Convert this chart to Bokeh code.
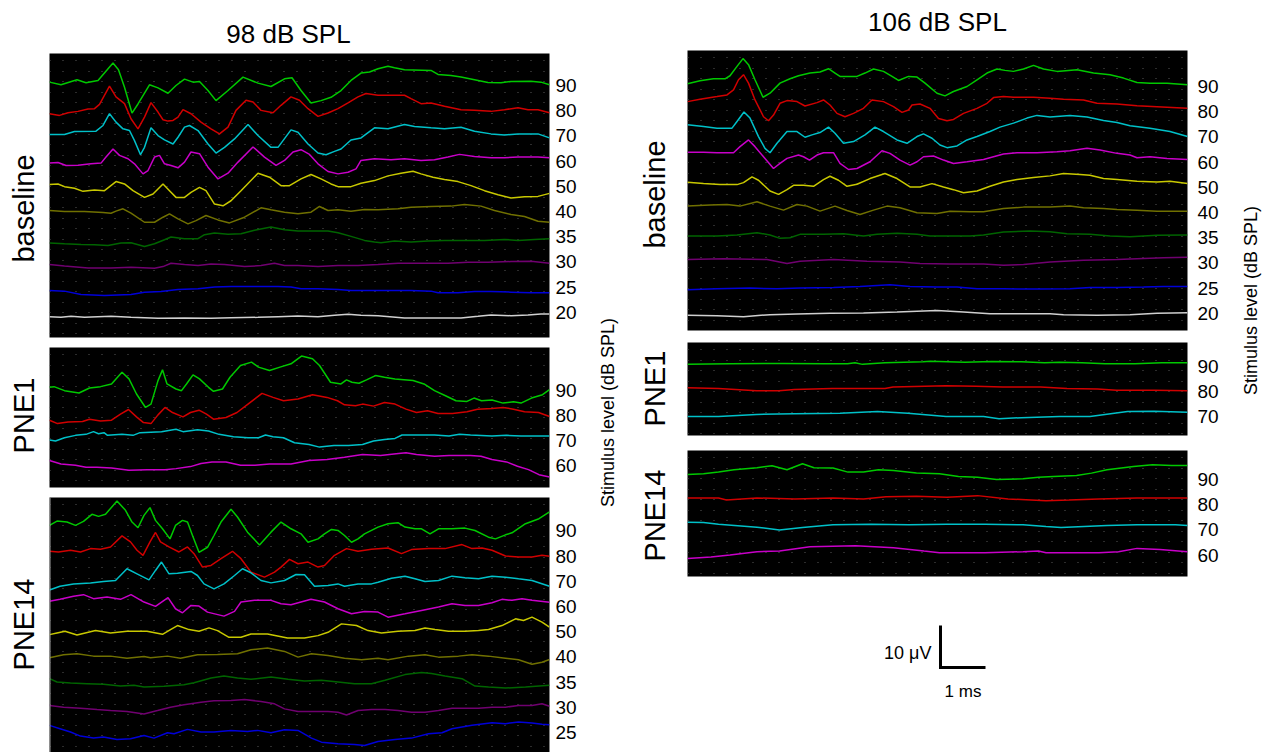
import math
import numpy as np
from bokeh.plotting import figure
from bokeh.models import Range1d, LinearAxis, FixedTicker, Grid, Spacer, Span
from bokeh.layouts import row, column
from bokeh.embed import file_html
from bokeh.resources import INLINE
from bokeh.core.properties import value

FONT = "Liberation Sans"

# ---------------- data: (time ms, amplitude uV) per trace ----------------
LEVELS_FULL = [90, 80, 70, 60, 50, 40, 35, 30, 25, 20]
LEVELS_PNE1_98 = [90, 80, 70, 60]
LEVELS_PNE14_98 = [90, 80, 70, 60, 50, 40, 35, 30, 25]
LEVELS_PNE1_106 = [90, 80, 70]
LEVELS_PNE14_106 = [90, 80, 70, 60]
TRACE_COLORS = ["#00c800", "#d00000", "#00c0c8", "#c800c8", "#c8c800",
                "#707000", "#006400", "#700070", "#0000d8", "#d0d0d0"]
ROW_LABELS = ["baseline", "PNE1", "PNE14"]
TITLES = ["98 dB SPL", "106 dB SPL"]
STIM_LABEL = "Stimulus level (dB SPL)"
SCALE_MS = 1
SCALE_UV = 10

# 98 dB SPL, baseline
b98_90 = [(0,0.8),(0.23,0.16),(0.55,1.36),(0.73,0.64),(0.97,1.2),(1.27,5.36),(1.38,3.76),(1.5,-0.4),(1.65,-6.56),(1.77,-4.4),(2.0,0.16),(2.17,-0.56),(2.37,-1.84),(2.53,0),(2.7,1.52),(2.87,0.8),(3.0,0.96),(3.17,-1.2),(3.33,-3.6),(3.57,-1.2),(3.87,2.0),(4.17,0.56),(4.43,-0.24),(4.7,1.6),(4.85,1.84),(5.03,-1.2),(5.23,-4.16),(5.43,-3.6),(5.63,-2.8),(5.83,-1.2),(6.03,1.2),(6.23,2.96),(6.4,3.2),(6.57,4.0),(6.77,4.56),(6.9,4.24),(7.1,3.76),(7.63,3.6),(7.77,2.64),(8.03,2.4),(8.23,2.0),(8.5,1.36),(8.77,0.72),(9.03,0.64),(9.23,0.96),(9.63,1.04),(9.83,0.8),(10.0,0.16)]
b98_80 = [(0,-0.72),(0.2,-1.12),(0.37,-0.48),(0.57,-0.16),(0.77,0.4),(0.9,0.48),(1.0,1.52),(1.2,5.84),(1.33,3.28),(1.5,1.68),(1.63,-1.92),(1.77,-4.32),(1.9,-1.52),(2.03,1.92),(2.17,-0.32),(2.27,-2.16),(2.37,-2.48),(2.47,-2.32),(2.57,-1.52),(2.67,0.24),(2.83,-0.72),(3.03,-2.72),(3.23,-4.32),(3.4,-5.52),(3.57,-3.92),(3.73,0.08),(3.93,2.48),(4.07,2.08),(4.23,0.08),(4.47,-0.48),(4.63,1.28),(4.83,3.28),(5.0,2.48),(5.17,0.48),(5.37,-1.36),(5.57,-0.56),(5.77,0.48),(5.97,1.84),(6.17,3.28),(6.33,4.08),(6.57,3.68),(7.1,3.68),(7.23,2.88),(7.43,1.68),(7.63,1.84),(7.9,1.04),(8.23,0.24),(8.5,0.08),(8.83,-0.16),(9.1,0.24),(9.37,0.72),(9.57,0.24),(9.77,0.24),(10.0,-0.48)]
b98_70 = [(0,0.32),(0.3,0.32),(0.5,1.04),(0.93,1.12),(1.07,2.48),(1.2,5.28),(1.33,3.28),(1.47,1.68),(1.6,1.28),(1.7,-1.12),(1.82,-4.48),(1.9,-2.72),(2.03,1.92),(2.17,0.08),(2.3,-0.96),(2.47,-1.92),(2.57,-0.32),(2.7,2.08),(2.8,2.48),(2.97,1.28),(3.17,-1.92),(3.33,-4.08),(3.5,-2.72),(3.7,-0.72),(3.97,2.72),(4.17,0.08),(4.43,-2.72),(4.57,-2.72),(4.83,1.44),(4.97,0.88),(5.17,-1.92),(5.37,-4.08),(5.53,-4.48),(5.7,-3.68),(5.83,-3.12),(6.03,-0.96),(6.23,-0.48),(6.5,1.92),(6.77,1.68),(7.1,2.72),(7.3,2.24),(7.63,1.92),(7.9,1.68),(8.23,2.08),(8.5,1.12),(8.83,0.48),(9.1,0.24),(9.37,0.48),(9.77,0.48),(10.0,-0.48)]
b98_60 = [(0,-0.48),(0.17,-0.32),(0.33,-1.04),(0.57,-0.96),(0.83,-0.64),(1.03,-0.48),(1.13,0.96),(1.27,2.88),(1.4,1.36),(1.57,0.56),(1.7,-0.64),(1.87,-3.04),(1.97,-2.24),(2.1,0.96),(2.2,1.36),(2.3,-0.64),(2.43,-1.04),(2.57,-1.6),(2.7,-0.24),(2.83,2.16),(3.0,1.76),(3.17,-1.44),(3.37,-4.24),(3.57,-2.88),(3.77,-0.24),(4.07,3.36),(4.3,0.96),(4.53,-1.04),(4.7,0.16),(4.87,2.16),(5.03,2.72),(5.2,1.6),(5.37,-0.64),(5.57,-2.48),(5.77,-3.04),(5.97,-2.64),(6.13,-1.84),(6.23,0.16),(6.5,0.56),(6.83,0.32),(7.1,0.56),(7.43,0.16),(7.7,0.32),(7.97,0.96),(8.2,1.6),(8.5,1.12),(8.83,0.8),(9.1,0.8),(9.37,0.96),(9.77,0.96),(10.0,0.8)]
b98_50 = [(0,0.4),(0.17,0.56),(0.3,-0.08),(0.5,-0.48),(0.67,-1.2),(0.9,-0.88),(1.1,-1.04),(1.33,1.12),(1.5,0.56),(1.67,-1.04),(1.9,-2.64),(2.07,-1.84),(2.27,0.56),(2.4,-1.04),(2.53,-2.64),(2.7,-2.64),(2.83,-1.44),(3.0,-0.24),(3.13,-1.04),(3.3,-4.24),(3.47,-4.64),(3.63,-3.44),(3.83,-1.04),(4.17,3.12),(4.4,2.16),(4.63,0.16),(4.8,0.16),(5.03,1.76),(5.23,2.8),(5.43,1.76),(5.63,0.56),(5.77,-0.08),(6.03,-0.08),(6.23,0.72),(6.5,1.36),(6.77,2.48),(7.03,3.12),(7.27,3.6),(7.43,2.96),(7.67,2.16),(7.9,1.6),(8.17,1.12),(8.43,0.16),(8.7,-1.04),(8.97,-2.0),(9.23,-2.8),(9.5,-2.48),(9.77,-2.4),(10.0,-1.68)]
b98_40 = [(0,0.24),(0.3,0),(0.7,0),(1.07,-0.24),(1.23,-0.4),(1.33,0.08),(1.47,0.64),(1.63,-0.4),(1.9,-2.56),(2.1,-2.56),(2.27,-1.36),(2.4,-0.56),(2.57,-1.76),(2.77,-2.96),(2.93,-2.16),(3.13,-0.96),(3.37,-2.0),(3.6,-2.72),(3.9,-1.36),(4.23,0.88),(4.43,0.4),(4.7,-0.16),(4.97,-0.56),(5.23,-0.16),(5.4,1.2),(5.57,0.24),(5.77,0.4),(6.03,0.08),(6.3,0.48),(6.57,0.4),(6.97,0.64),(7.23,1.04),(7.63,1.2),(8.03,1.28),(8.3,1.68),(8.63,1.28),(8.9,0.24),(9.23,-0.72),(9.5,-1.2),(9.77,-2.32),(10.0,-2.56)]
b98_35 = [(0,-1.52),(0.3,-1.68),(0.63,-1.84),(0.9,-1.92),(1.17,-2.08),(1.43,-1.52),(1.63,-1.44),(1.9,-2.32),(2.1,-1.68),(2.3,-0.72),(2.43,-0.08),(2.7,-0.48),(2.97,-0.48),(3.1,0.48),(3.3,0.88),(3.57,0.56),(3.83,0.72),(4.1,1.52),(4.43,2.32),(4.7,1.68),(4.97,1.36),(5.23,1.36),(5.57,1.36),(5.77,0.96),(6.03,0.08),(6.3,-0.88),(6.5,-1.28),(6.63,-1.44),(6.9,-1.04),(7.23,-1.28),(7.57,-1.04),(7.9,-0.88),(8.3,-0.88),(8.7,-0.88),(9.1,-0.64),(9.37,-0.88),(9.7,-0.64),(10.0,-0.48)]
b98_30 = [(0,-0.64),(0.3,-0.96),(0.77,-1.44),(1.23,-1.44),(1.63,-1.28),(2.1,-1.52),(2.27,-1.12),(2.43,-0.32),(2.7,-0.64),(2.97,-0.88),(3.23,-0.48),(3.5,-0.64),(3.9,-1.12),(4.23,-0.88),(4.5,-0.32),(4.7,-0.88),(4.97,-0.88),(5.37,-1.12),(5.77,-0.88),(6.17,-0.88),(6.57,-0.64),(6.97,-0.32),(7.57,-0.32),(7.97,-0.32),(8.37,-0.08),(8.77,-0.08),(9.23,0.08),(9.63,0.16),(10.0,-0.32)]
b98_25 = [(0,-0.8),(0.3,-0.96),(0.63,-1.76),(1.1,-2.0),(1.63,-1.76),(1.9,-1.2),(2.23,-1.04),(2.57,-0.56),(2.97,-0.4),(3.3,0),(3.63,0.16),(4.17,0.16),(4.57,0.16),(4.83,0),(5.03,-0.4),(5.37,-0.4),(5.77,-0.56),(6.03,-0.8),(6.57,-0.8),(7.23,-0.8),(7.63,-0.96),(7.77,-1.36),(8.17,-1.36),(8.5,-1.04),(8.83,-1.04),(9.23,-1.2),(9.63,-1.36),(10.0,-1.36)]
b98_20 = [(0,-1.04),(0.23,-1.2),(0.43,-0.96),(0.7,-1.2),(1.23,-0.96),(1.63,-1.2),(2.17,-1.44),(2.7,-1.36),(3.23,-1.44),(3.63,-1.28),(4.17,-1.2),(4.57,-1.04),(4.97,-0.88),(5.37,-1.04),(5.7,-0.72),(5.97,-0.48),(6.23,-0.72),(6.57,-0.8),(7.1,-1.36),(7.63,-1.36),(8.23,-1.36),(8.57,-0.96),(8.83,-0.64),(9.23,-0.8),(9.57,-0.64),(9.83,-0.4),(10.0,-0.4)]

# 98 dB SPL, PNE1
p1_98_90 = [(0,0.64),(0.09,0.8),(0.3,-0.16),(0.59,-0.72),(0.8,0.48),(1.02,0.8),(1.24,1.44),(1.45,4.24),(1.59,2.64),(1.74,-0.96),(1.92,-4.16),(2.03,-3.36),(2.17,2.24),(2.26,4.8),(2.35,1.44),(2.53,0.24),(2.64,-0.16),(2.74,1.44),(2.87,3.6),(3.0,2.64),(3.18,0.64),(3.28,-0.32),(3.46,0.24),(3.61,3.04),(3.82,5.84),(4.04,6.64),(4.18,5.44),(4.4,4.64),(4.61,5.44),(4.83,6.24),(5.04,8.08),(5.26,7.44),(5.4,5.84),(5.62,1.84),(5.83,1.44),(5.94,2.4),(6.05,1.84),(6.19,1.6),(6.34,2.4),(6.52,3.44),(6.7,3.04),(6.91,2.64),(7.27,2.24),(7.49,1.44),(7.7,-0.16),(7.92,-1.36),(8.13,-2.56),(8.35,-2.72),(8.49,-1.92),(8.64,-2.56),(8.85,-2.4),(9.07,-3.12),(9.28,-2.8),(9.43,-3.12),(9.64,-1.92),(9.86,-1.12),(10.0,0.08)]
p1_98_80 = [(0,-1.2),(0.16,-2.0),(0.37,-1.6),(0.66,-1.52),(0.8,-0.96),(1.02,-1.36),(1.24,-1.2),(1.42,0.24),(1.58,1.36),(1.74,-0.4),(1.88,-1.76),(2.03,-2.0),(2.17,0.08),(2.31,1.84),(2.46,0.64),(2.67,-0.4),(2.82,0.64),(2.99,1.2),(3.14,0.24),(3.28,-0.96),(3.53,-0.56),(3.75,0.64),(3.97,2.64),(4.25,5.2),(4.47,4.24),(4.68,3.44),(4.97,3.84),(5.26,4.88),(5.55,4.24),(5.76,3.44),(5.9,2.48),(6.12,2.24),(6.26,2.64),(6.48,2.16),(6.7,3.04),(6.91,2.64),(7.13,1.44),(7.34,0.64),(7.56,1.04),(7.77,0.4),(8.06,0.4),(8.35,0.8),(8.56,1.44),(8.85,1.6),(9.07,1.84),(9.28,1.44),(9.5,0.8),(9.78,0.64),(10.0,-0.32)]
p1_98_70 = [(0,0.08),(0.12,-0.16),(0.3,0.64),(0.52,1.2),(0.73,1.44),(0.88,2.08),(0.98,1.6),(1.09,1.84),(1.16,1.2),(1.45,1.44),(1.67,1.2),(1.81,1.84),(2.24,2.08),(2.53,2.64),(2.67,2.08),(2.96,2.56),(3.18,2.24),(3.39,1.44),(3.68,0.88),(3.97,0.64),(4.18,0.64),(4.32,1.28),(4.47,0.88),(4.68,0.64),(4.9,-0.56),(5.19,-0.96),(5.4,-1.6),(5.69,-1.2),(5.98,-1.2),(6.26,-0.96),(6.48,-0.16),(6.7,0.24),(6.91,0.48),(7.05,1.28),(7.41,1.28),(7.7,1.28),(7.99,1.04),(8.2,1.44),(8.42,1.28),(8.85,1.04),(9.14,1.2),(9.43,1.04),(9.71,1.04),(10.0,1.04)]
p1_98_60 = [(0,1.2),(0.23,0.4),(0.52,0.08),(0.73,-0.4),(0.95,-0.4),(1.24,-0.56),(1.59,-1.12),(1.95,-0.96),(2.31,-0.96),(2.53,-0.72),(2.82,-0.24),(3.03,0.48),(3.25,0.88),(3.53,0.88),(3.82,0.08),(4.11,0.08),(4.4,0.4),(4.83,0.4),(5.19,1.2),(5.55,1.44),(5.9,2.0),(6.26,2.64),(6.62,2.4),(6.98,2.88),(7.13,3.04),(7.34,2.64),(7.7,2.24),(7.99,2.4),(8.42,2.4),(8.63,2.24),(8.85,1.44),(9.14,0.88),(9.36,-0.16),(9.58,-0.96),(9.79,-2.16),(10.0,-2.72)]

# 98 dB SPL, PNE14
p14_98_90 = [(0,1.28),(0.15,2.32),(0.35,2.08),(0.52,1.28),(0.68,2.24),(0.85,3.92),(0.98,3.44),(1.12,3.92),(1.35,7.12),(1.52,4.88),(1.65,2.08),(1.77,0.72),(1.89,3.68),(2.01,5.52),(2.12,2.48),(2.26,0.48),(2.41,-1.92),(2.52,1.28),(2.66,2.48),(2.76,2.08),(2.86,-1.12),(2.99,-5.12),(3.16,-3.92),(3.29,-1.12),(3.43,2.08),(3.63,5.12),(3.76,3.28),(3.96,-0.32),(4.2,-3.36),(4.43,-0.32),(4.63,2.08),(4.83,0.48),(5.03,-0.72),(5.17,-2.72),(5.37,-1.92),(5.5,-0.72),(5.64,0.32),(5.77,0.08),(5.9,-1.12),(6.04,-2.72),(6.17,-1.92),(6.3,-0.72),(6.57,0.88),(6.77,1.68),(6.97,1.92),(7.11,0.88),(7.31,0.48),(7.44,0.48),(7.61,-0.72),(7.78,0.48),(8.05,0.48),(8.31,0.64),(8.51,0.08),(8.78,-1.52),(8.92,-1.92),(9.12,-0.96),(9.25,-0.48),(9.52,1.68),(9.79,2.88),(10.0,4.48)]
p14_98_80 = [(0,1.12),(0.18,0.96),(0.42,1.36),(0.62,0.96),(0.82,1.76),(1.02,1.6),(1.22,2.16),(1.45,4.8),(1.62,3.36),(1.75,1.36),(1.87,0.16),(2.01,3.36),(2.12,5.6),(2.22,3.36),(2.39,2.16),(2.59,0.96),(2.76,2.16),(2.89,0.56),(3.06,-2.64),(3.23,-2.24),(3.43,-0.64),(3.66,1.12),(3.83,-0.64),(4.03,-3.84),(4.3,-5.04),(4.5,-3.84),(4.63,-2.64),(4.8,-0.8),(4.97,-1.84),(5.17,-1.44),(5.37,-2.64),(5.5,-2.24),(5.7,0.16),(5.94,1.76),(6.17,1.12),(6.44,1.6),(6.77,1.92),(7.04,0.56),(7.24,1.52),(7.58,1.76),(7.91,1.76),(8.25,2.72),(8.45,1.76),(8.65,1.92),(8.85,1.36),(9.12,0),(9.38,-0.24),(9.65,-0.24),(9.85,0.16),(10.0,-0.08)]
p14_98_70 = [(0,-2.08),(0.21,-1.2),(0.48,-0.64),(0.82,-0.4),(1.08,-0.08),(1.32,0.16),(1.55,2.96),(1.75,1.76),(1.99,0.32),(2.12,2.56),(2.24,4.56),(2.39,1.76),(2.56,1.92),(2.83,2.32),(2.96,1.36),(3.09,-0.64),(3.29,-1.84),(3.49,-0.64),(3.7,1.36),(3.86,2.96),(4.03,2.0),(4.23,0.16),(4.43,-0.4),(4.7,0.16),(4.93,1.6),(5.1,1.52),(5.3,-1.2),(5.57,-1.04),(5.77,-0.64),(5.9,-1.2),(6.17,-0.64),(6.44,-0.64),(6.57,-0.24),(6.84,0.72),(7.11,1.2),(7.31,0.56),(7.51,-0.08),(7.78,0.16),(8.05,1.2),(8.31,0.8),(8.58,0.56),(8.85,1.2),(9.12,0.96),(9.38,0.56),(9.65,0.16),(10.0,-1.2)]
p14_98_60 = [(0,1.2),(0.21,1.68),(0.48,2.4),(0.68,2.8),(0.88,1.84),(1.15,2.24),(1.42,1.68),(1.63,2.8),(1.89,1.04),(2.12,0),(2.37,2.08),(2.52,-0.56),(2.66,-1.52),(2.83,0.24),(2.99,0.08),(3.16,-1.36),(3.49,-2.32),(3.7,-1.2),(3.83,1.04),(4.1,1.44),(4.43,1.44),(4.63,0.64),(4.83,0.4),(5.23,1.68),(5.5,1.04),(5.77,-0.56),(6.04,-1.76),(6.3,-1.2),(6.57,-1.36),(6.77,-2.56),(7.11,-1.76),(7.44,-0.96),(7.78,-0.16),(8.05,0.64),(8.31,0.24),(8.58,0.24),(8.85,0.88),(9.05,1.68),(9.25,1.44),(9.45,1.84),(9.65,1.44),(10.0,0.96)]
p14_98_50 = [(0,-0.72),(0.15,-0.32),(0.31,0.08),(0.55,-0.8),(0.92,0.24),(1.22,-0.32),(1.55,0.08),(1.95,0.08),(2.26,-0.64),(2.42,0.48),(2.56,1.44),(2.79,0.48),(2.99,0.08),(3.19,0.88),(3.36,0.24),(3.59,-1.36),(3.83,-1.36),(4.03,-0.56),(4.36,-0.56),(4.76,-1.52),(5.1,-1.52),(5.37,-0.96),(5.57,-0.16),(5.84,1.84),(6.14,1.44),(6.37,0.24),(6.64,-0.32),(6.97,0.08),(7.31,0.24),(7.51,0.88),(7.71,0.48),(7.98,0.08),(8.31,0.08),(8.58,0.24),(8.78,0.48),(9.05,1.44),(9.32,3.04),(9.48,2.64),(9.65,3.44),(9.85,2.24),(10.0,1.04)]
p14_98_40 = [(0,-0.24),(0.28,0.48),(0.55,0.72),(0.88,0.16),(1.22,0.16),(1.55,-0.32),(1.89,0.08),(2.02,-0.24),(2.36,0.16),(2.62,-0.32),(2.96,0.48),(3.36,0.56),(3.76,0.72),(4.03,1.68),(4.36,2.08),(4.7,1.28),(4.97,-0.08),(5.24,0.72),(5.57,0.32),(5.9,-0.32),(6.24,-0.72),(6.57,-0.32),(6.77,-0.72),(7.18,0.16),(7.51,0.48),(7.78,-0.08),(8.18,0.16),(8.45,0.48),(8.78,0.16),(9.12,-0.32),(9.38,-0.72),(9.65,-1.76),(9.85,-1.28),(10.0,-0.64)]
p14_98_35 = [(0,0.8),(0.15,0),(0.42,-0.24),(0.75,-0.4),(1.08,-0.56),(1.42,-0.96),(1.69,-0.8),(1.89,-1.2),(2.29,-1.04),(2.69,-0.64),(2.89,-0.16),(3.23,0.96),(3.49,1.44),(3.76,0.96),(4.03,0.64),(4.43,1.2),(4.77,0.64),(5.1,0.24),(5.44,0.4),(5.77,0),(6.1,-0.4),(6.44,-0.4),(6.71,0.4),(7.11,1.76),(7.44,2.24),(7.64,2.0),(7.91,1.44),(8.25,0.8),(8.51,-0.96),(8.78,-1.2),(9.12,-1.44),(9.52,-1.2),(10.0,-0.8)]
p14_98_30 = [(0,0.4),(0.28,0),(0.62,-0.24),(0.95,-0.56),(1.22,-0.8),(1.55,-1.04),(1.89,-1.6),(2.16,-0.8),(2.42,0),(2.69,0.56),(3.03,1.2),(3.29,1.52),(3.63,1.6),(3.9,1.84),(4.23,1.36),(4.5,0.8),(4.7,-0.4),(4.97,-1.04),(5.24,-1.04),(5.57,-1.04),(5.77,-1.2),(5.94,-1.84),(6.17,-0.8),(6.44,-0.56),(6.71,-0.56),(6.97,-0.8),(7.24,-1.2),(7.51,-1.2),(7.78,-0.8),(8.05,-0.24),(8.31,-0.24),(8.58,-0.24),(8.85,0),(9.12,0),(9.38,0.4),(9.65,0.4),(9.85,0.8),(10.0,0.24)]
p14_98_25 = [(0,1.68),(0.21,0.88),(0.42,0.08),(0.62,-0.88),(0.88,-1.36),(1.08,-1.12),(1.35,-1.68),(1.62,-1.52),(1.89,-0.72),(2.09,-1.36),(2.36,-0.08),(2.49,-0.32),(2.76,0.72),(3.03,0.08),(3.29,0.08),(3.63,0.48),(3.96,0.24),(4.16,0.48),(4.43,-0.08),(4.7,0.64),(4.97,0.48),(5.24,-1.36),(5.44,-2.32),(5.77,-2.72),(6.1,-2.88),(6.3,-3.12),(6.57,-2.16),(6.91,-1.68),(7.24,-1.36),(7.58,-0.32),(7.85,-0.08),(8.05,0.88),(8.45,1.68),(8.85,2.32),(9.12,2.08),(9.38,2.48),(9.65,2.24),(9.85,1.92),(10.0,1.84)]

# 106 dB SPL, baseline
b106_90 = [(0,0.64),(0.25,1.36),(0.52,1.84),(0.75,1.84),(0.85,2.56),(0.99,4.8),(1.11,6.64),(1.22,5.2),(1.35,1.6),(1.51,-2.56),(1.65,-1.6),(1.85,0.8),(2.05,1.84),(2.22,2.56),(2.45,3.2),(2.65,3.44),(2.82,4.24),(2.95,3.2),(3.05,2.4),(3.25,2.4),(3.39,2.4),(3.55,3.2),(3.72,4.16),(3.92,3.6),(4.09,2.4),(4.22,1.44),(4.42,2.4),(4.59,2.24),(4.75,0.8),(4.99,-1.6),(5.15,-2.24),(5.32,-1.2),(5.59,0),(5.79,1.6),(5.99,3.2),(6.19,4.16),(6.35,3.84),(6.52,3.6),(6.72,4.16),(6.92,5.04),(7.12,4.16),(7.39,3.6),(7.79,4.0),(8.12,3.2),(8.45,2.8),(8.72,2.0),(8.99,0.96),(9.25,0.8),(9.59,0.8),(10.0,0.4)]
b106_80 = [(0,2.4),(0.25,2.96),(0.59,3.6),(0.79,4.0),(0.92,5.2),(1.02,7.6),(1.12,8.8),(1.22,6.8),(1.35,2.8),(1.52,-1.2),(1.62,-2.16),(1.72,-0.8),(1.85,2.0),(1.99,2.64),(2.19,2.4),(2.35,1.36),(2.59,2.16),(2.72,2.8),(2.85,1.6),(2.99,-0.4),(3.15,-1.2),(3.32,-0.4),(3.52,0.8),(3.69,2.8),(3.92,2.4),(4.12,1.2),(4.29,-0.16),(4.42,0.4),(4.49,1.6),(4.65,1.84),(4.85,0.8),(5.02,-1.6),(5.19,-2.16),(5.32,-1.84),(5.52,-0.4),(5.79,0.8),(5.99,2.0),(6.12,3.36),(6.32,3.6),(6.52,3.44),(6.92,3.44),(7.25,3.2),(7.52,2.96),(7.92,2.8),(8.19,2.0),(8.59,1.84),(8.99,1.44),(9.39,1.2),(9.79,0.96),(10.0,0.8)]
b106_70 = [(0,2.88),(0.32,2.48),(0.59,2.08),(0.89,2.08),(0.99,3.68),(1.13,5.92),(1.25,4.48),(1.42,0.08),(1.55,-2.72),(1.65,-3.76),(1.79,-1.52),(1.99,1.28),(2.19,1.28),(2.35,-0.08),(2.49,0.48),(2.65,1.04),(2.82,2.32),(2.95,0.88),(3.12,-1.52),(3.32,-1.12),(3.55,0.48),(3.75,2.32),(3.92,1.28),(4.19,-0.72),(4.39,-1.52),(4.59,0.08),(4.72,0.72),(4.89,-0.32),(5.05,-1.92),(5.19,-2.56),(5.39,-2.16),(5.59,-0.72),(5.79,0.08),(6.05,1.28),(6.25,2.32),(6.52,3.28),(6.79,4.48),(6.99,5.12),(7.25,4.72),(7.65,5.12),(7.99,4.72),(8.32,3.92),(8.59,3.44),(8.85,2.64),(9.25,2.08),(9.65,1.28),(10.0,0.08)]
b106_60 = [(0,2.32),(0.32,2.32),(0.59,2.24),(0.92,2.24),(1.05,3.68),(1.22,5.28),(1.35,3.68),(1.52,1.28),(1.72,-1.52),(1.85,-0.32),(1.99,0.88),(2.22,1.68),(2.32,1.28),(2.44,0.48),(2.59,1.68),(2.72,2.24),(2.92,2.24),(3.05,-0.32),(3.22,-1.76),(3.39,-1.52),(3.65,0.08),(3.89,2.72),(4.05,2.08),(4.25,0.48),(4.45,-0.72),(4.59,0.08),(4.72,1.28),(4.92,1.44),(5.12,0.48),(5.32,-0.32),(5.59,0.08),(5.92,0.64),(6.32,1.92),(6.59,2.24),(6.99,2.24),(7.39,2.48),(7.65,2.72),(7.99,3.28),(8.25,2.88),(8.59,2.08),(8.85,1.68),(8.99,1.04),(9.25,1.28),(9.59,0.88),(10.0,0.64)]
b106_50 = [(0,1.2),(0.32,0.88),(0.65,0.64),(0.99,0.64),(1.12,1.12),(1.29,2.48),(1.42,1.68),(1.65,-0.88),(1.82,-1.68),(1.99,-0.56),(2.12,0.48),(2.32,0.48),(2.52,0.24),(2.72,1.84),(2.85,2.64),(3.02,1.68),(3.19,0.24),(3.39,0.72),(3.65,2.08),(3.95,3.28),(4.19,2.08),(4.45,0.08),(4.65,0.08),(4.89,0.88),(5.12,0.08),(5.32,-0.56),(5.52,-1.28),(5.79,-0.88),(6.05,0.24),(6.32,1.28),(6.59,1.84),(6.92,2.32),(7.25,2.72),(7.52,3.28),(7.85,3.04),(8.05,2.88),(8.32,2.08),(8.59,1.84),(8.99,1.44),(9.39,1.28),(9.65,1.44),(10.0,0.88)]
b106_40 = [(0,1.52),(0.45,1.76),(0.79,1.92),(1.05,1.52),(1.39,2.56),(1.65,1.52),(1.92,0.56),(2.19,1.92),(2.39,1.52),(2.65,0.32),(2.95,1.52),(3.19,0.48),(3.45,-0.48),(3.72,0.56),(3.99,1.52),(4.25,1.12),(4.59,-0.08),(4.99,-0.24),(5.25,0.32),(5.65,0.16),(5.92,0.16),(6.32,0.96),(6.72,1.28),(7.25,1.28),(7.65,1.52),(7.92,1.12),(8.32,0.96),(8.59,0.72),(8.99,0.56),(9.39,0.32),(9.65,0.32),(10.0,0.32)]
b106_35 = [(0,0.4),(0.59,0.4),(0.99,0.64),(1.39,1.2),(1.65,0.64),(1.85,-0.16),(2.05,0),(2.25,0.8),(2.72,0.8),(3.12,0.96),(3.52,0.4),(3.79,0.8),(4.19,1.04),(4.59,0.8),(4.85,0.4),(5.25,0.4),(5.65,0.4),(5.92,0.64),(6.32,1.36),(6.85,1.6),(7.25,1.44),(7.59,0.96),(8.05,0.8),(8.45,0.4),(8.85,0.24),(9.39,0.56),(10.0,0.64)]
b106_30 = [(0,0.8),(0.72,0.96),(1.59,0.8),(1.99,-0.16),(2.25,0.4),(2.92,0.8),(3.59,0.4),(4.25,0.24),(4.65,-0.16),(5.25,-0.24),(5.92,-0.24),(6.32,-0.56),(6.72,-0.4),(7.25,0.24),(7.92,0.64),(8.59,0.8),(9.12,1.04),(9.52,1.2),(10.0,1.36)]
b106_25 = [(0,-0.4),(0.59,-0.16),(1.25,0),(1.79,-0.16),(2.25,0),(2.92,0.16),(3.45,0.4),(4.05,0.8),(4.45,0.4),(4.99,0.24),(5.39,0.24),(5.79,-0.16),(6.32,-0.16),(6.99,-0.24),(7.65,-0.16),(8.05,0.16),(8.59,0.16),(9.12,0.24),(9.52,0.4),(10.0,0.4)]
b106_20 = [(0,-0.48),(0.59,-0.56),(1.12,-0.8),(1.65,-0.32),(2.19,-0.16),(2.85,0),(3.52,0.08),(4.19,0.32),(4.99,0.64),(5.52,0.32),(6.05,-0.08),(6.59,-0.08),(7.25,-0.08),(7.52,-0.32),(8.19,-0.48),(8.85,-0.32),(9.39,0),(10.0,0.16)]

# 106 dB SPL, PNE1
p1_106_90 = [(0,0.39),(0.85,0.54),(1.91,0.62),(2.74,0.54),(3.2,0.54),(3.35,0.77),(3.5,0.39),(3.95,0.77),(4.71,1.0),(4.86,1.16),(5.55,0.92),(6.08,1.08),(6.68,1.0),(7.14,0.77),(7.44,0.92),(7.89,0.77),(8.35,0.54),(8.95,0.54),(9.48,0.77),(10.0,0.77)]
p1_106_80 = [(0,0.85),(0.62,0.62),(1.38,0.08),(1.83,0.08),(2.14,0.39),(2.89,0.62),(3.95,0.62),(4.11,1.0),(5.17,1.31),(5.77,1.16),(6.3,1.0),(7.06,1.0),(7.59,0.62),(8.2,0.54),(8.58,0.23),(9.33,0.23),(10.0,0.08)]
p1_106_70 = [(0,0),(0.62,0),(1.38,0.46),(2.14,0.62),(3.05,0.77),(3.8,1.16),(4.41,0.77),(5.17,0),(5.92,0),(6.23,-0.54),(6.68,-0.31),(7.44,0),(8.05,0),(8.8,1.16),(9.33,1.23),(10.0,1.0)]

# 106 dB SPL, PNE14
p14_106_90 = [(0,1.2),(0.32,1.36),(0.62,1.76),(0.93,2.32),(1.39,2.8),(1.69,3.28),(1.99,2.32),(2.3,3.76),(2.53,2.8),(2.91,2.72),(3.21,1.76),(3.52,1.76),(3.82,2.32),(4.12,2.16),(4.58,1.52),(5.04,1.36),(5.42,0.72),(5.8,0.56),(6.18,0),(6.71,0.16),(7.02,0.56),(7.32,0.72),(7.78,0.96),(8.08,1.52),(8.39,2.32),(8.92,3.12),(9.3,3.52),(9.68,3.36),(10.0,3.36)]
p14_106_80 = [(0,1.6),(0.62,1.6),(0.78,1.12),(1.39,1.6),(2.15,1.36),(2.91,1.6),(3.52,1.36),(3.97,1.92),(4.58,2.0),(5.19,1.76),(5.8,2.16),(6.41,1.36),(7.17,0.96),(7.63,1.12),(8.23,1.36),(8.99,1.6),(10.0,1.6)]
p14_106_70 = [(0,1.84),(0.32,1.76),(0.62,1.36),(1.39,0.64),(1.84,0),(2.3,0.56),(2.91,1.2),(3.67,1.36),(4.43,1.2),(5.19,1.36),(5.95,1.36),(6.71,1.2),(7.17,0.8),(7.47,0.56),(7.93,0.8),(8.39,1.04),(8.99,1.2),(9.76,1.2),(10.0,1.04)]
p14_106_60 = [(0,-0.8),(0.47,-0.48),(0.85,0),(1.39,0.8),(1.84,0.96),(2.45,2.0),(3.36,2.24),(4.12,1.76),(4.73,0.96),(5.04,0.56),(5.95,0.56),(6.71,0.8),(7.02,0.96),(7.17,0.56),(8.23,0.56),(8.62,0.8),(8.99,1.6),(9.45,1.36),(10.0,0.8)]

# ---------------- layout constants (pixels) ----------------
PX_PER_UV = 4.2
STEP_UV = 6.0
PX_PER_MS_BAR = 45.0
FRAME_W = 500


def blank(width, height, mb_right=0):
    f = figure(width=width, height=height, output_backend="svg", toolbar_location=None,
               x_axis_type=None, y_axis_type=None, min_border=0, title=None,
               min_border_left=0, min_border_top=0, min_border_bottom=0,
               min_border_right=mb_right,
               x_range=Range1d(0, width - mb_right), y_range=Range1d(height, 0))
    f.outline_line_color = None
    f.background_fill_color = "white"
    f.border_fill_color = "white"
    return f


def add_text(f, x, y, txt, size, angle=0.0, align="center"):
    f.text(x=[x], y=[y], text=[txt], angle=angle, text_align=align,
           text_baseline="middle", text_font=value(FONT), text_font_size=size,
           text_color="black")


def panel(traces, levels, width, height, mb_right, mb_top, mb_bottom,
          top_gap_px, label_standoff, left_edge=False):
    frame_h = height - mb_top - mb_bottom
    y_top = top_gap_px / PX_PER_UV
    y_bot = y_top - frame_h / PX_PER_UV
    p = figure(width=width, height=height, x_range=Range1d(0, 10),
               y_range=Range1d(y_bot, y_top), output_backend="svg",
               toolbar_location=None, x_axis_type=None, y_axis_type=None,
               min_border_left=0, min_border_right=mb_right,
               min_border_top=mb_top, min_border_bottom=mb_bottom, title=None)
    p.background_fill_color = "black"
    p.border_fill_color = "white"
    p.outline_line_color = None
    first = y_top - 7 / PX_PER_UV
    ticks = list(np.arange(first, y_bot, -2.5))
    p.add_layout(Grid(dimension=1, ticker=FixedTicker(ticks=ticks),
                      grid_line_color="#585858", grid_line_width=1,
                      grid_line_dash="1 12"))
    if left_edge:
        p.add_layout(Span(location=0, dimension="height", line_color="#a0a0a0",
                          line_width=2))
    offsets = []
    for i, (tr, lev) in enumerate(zip(traces, levels)):
        off = -int(round(STEP_UV * i))
        offsets.append(off)
        t = [a for a, b in tr]
        v = [b + off for a, b in tr]
        p.line(t, v, line_color=TRACE_COLORS[i], line_width=1.5)
    ax = LinearAxis(ticker=FixedTicker(ticks=offsets),
                    major_label_overrides={o: str(l) for o, l in zip(offsets, levels)},
                    axis_line_color=None, major_tick_line_color=None,
                    major_tick_out=0, major_tick_in=0, minor_tick_out=0, minor_tick_in=0,
                    minor_tick_line_color=None, major_label_standoff=label_standoff,
                    major_label_text_font=FONT, major_label_text_font_size="19px",
                    major_label_text_color="black")
    p.add_layout(ax, "right")
    return p


# ----- left column (98 dB SPL), starts 8 px below the page top -----
LW = 541
TL = blank(LW, 40, LW - FRAME_W)
add_text(TL, 239, 25, TITLES[0], "26px")
L1 = panel([b98_90, b98_80, b98_70, b98_60, b98_50, b98_40, b98_35, b98_30, b98_25, b98_20],
           LEVELS_FULL, LW, 294, LW - FRAME_W, 5, 5, 32, 6)
L2 = panel([p1_98_90, p1_98_80, p1_98_70, p1_98_60], LEVELS_PNE1_98,
           LW, 150, LW - FRAME_W, 5, 5, 42.5, 6)
L3 = panel([p14_98_90, p14_98_80, p14_98_70, p14_98_60, p14_98_50, p14_98_40,
            p14_98_35, p14_98_30, p14_98_25], LEVELS_PNE14_98,
           LW, 260, LW - FRAME_W, 5, 0, 33.3, 6, left_edge=True)
left_col = column(Spacer(height=8), TL, L1, L2, L3)

LL = blank(41, 752)
for txt, yc in zip(ROW_LABELS, [208, 415, 624]):
    add_text(LL, 15, yc, txt, "29px", angle=math.pi / 2)

S1 = blank(35, 752)
add_text(S1, 17, 412, STIM_LABEL, "18px", angle=math.pi / 2)

# ----- right column (106 dB SPL), starts at the page top -----
RW = 545
TR = blank(RW, 50, RW - FRAME_W)
add_text(TR, 250, 21, TITLES[1], "26px")
R1 = panel([b106_90, b106_80, b106_70, b106_60, b106_50, b106_40, b106_35, b106_30,
            b106_25, b106_20], LEVELS_FULL, RW, 285, RW - FRAME_W, 0, 5, 36, 10)
R2 = panel([p1_106_90, p1_106_80, p1_106_70], LEVELS_PNE1_106,
           RW, 105, RW - FRAME_W, 7, 5, 23.5, 10)
R3 = panel([p14_106_90, p14_106_80, p14_106_70, p14_106_60], LEVELS_PNE14_106,
           RW, 141, RW - FRAME_W, 10, 5, 29, 10)

RL = blank(62, 752)
for txt, yc in zip(ROW_LABELS, [194, 388, 515]):
    add_text(RL, 29, yc, txt, "29px", angle=math.pi / 2)

# scale bar (ms, uV)
SB_H = 129
sb_x0 = -253 / PX_PER_MS_BAR
sb_ytop = 86 / PX_PER_UV
sb = figure(width=RW, height=SB_H, output_backend="svg", toolbar_location=None,
            x_range=Range1d(sb_x0, sb_x0 + FRAME_W / PX_PER_MS_BAR),
            y_range=Range1d(sb_ytop - SB_H / PX_PER_UV, sb_ytop),
            x_axis_type=None, y_axis_type=None, min_border=0, title=None,
            min_border_left=0, min_border_top=0, min_border_bottom=0,
            min_border_right=RW - FRAME_W)
sb.outline_line_color = None
sb.line([0, 0, SCALE_MS], [SCALE_UV, 0, 0], line_color="black", line_width=3,
        line_join="miter")
sb.text(x=[0], y=[SCALE_UV / 2], text=[f"{SCALE_UV} μV"], text_align="right",
        text_baseline="middle", x_offset=-9, y_offset=6, text_font=value(FONT),
        text_font_size="18px", text_color="black")
sb.text(x=[SCALE_MS / 2], y=[0], text=[f"{SCALE_MS} ms"], text_align="center",
        text_baseline="top", y_offset=14, text_font=value(FONT),
        text_font_size="17px", text_color="black")
right_col = column(TR, R1, R2, R3, sb)

S2 = blank(35, 420)
add_text(S2, 18, 300, STIM_LABEL, "18px", angle=math.pi / 2)

layout = row(Spacer(width=8), LL, left_col, S1, RL, right_col, S2)
open("out.html", "w").write(file_html(layout, INLINE))
